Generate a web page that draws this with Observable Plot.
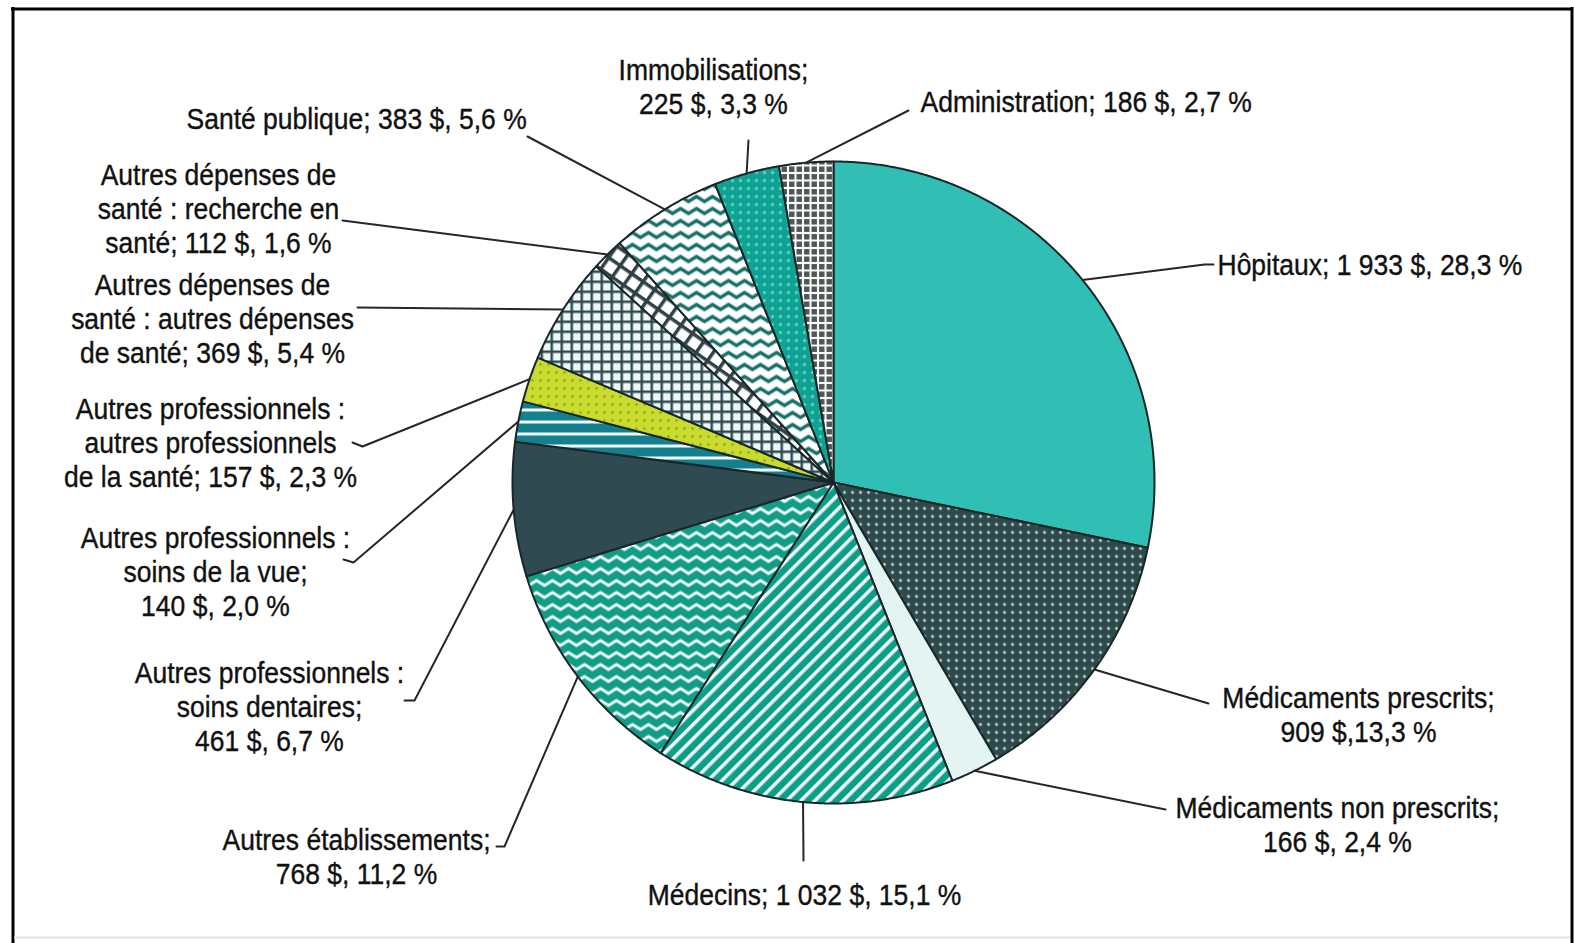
<!DOCTYPE html>
<html>
<head>
<meta charset="utf-8">
<script src="https://cdn.jsdelivr.net/npm/d3@7"></script>
<script src="https://cdn.jsdelivr.net/npm/@observablehq/plot@0.6"></script>
<style>
html, body { margin: 0; padding: 0; background: #fff; }
#chart svg { display: block; }
</style>
</head>
<body>
<div id="chart"></div>
<script>
// ---------- DATA ----------
const categories = [
  "Hôpitaux",
  "Médicaments prescrits",
  "Médicaments non prescrits",
  "Médecins",
  "Autres établissements",
  "Autres professionnels : soins dentaires",
  "Autres professionnels : soins de la vue",
  "Autres professionnels : autres professionnels de la santé",
  "Autres dépenses de santé : autres dépenses de santé",
  "Autres dépenses de santé : recherche en santé",
  "Santé publique",
  "Immobilisations",
  "Administration"
];
const dollars = [1933, 909, 166, 1032, 768, 461, 140, 157, 369, 112, 383, 225, 186];
const percents = [28.3, 13.3, 2.4, 15.1, 11.2, 6.7, 2.0, 2.3, 5.4, 1.6, 5.6, 3.3, 2.7];
const labels = [
  "Hôpitaux; 1 933 $, 28,3 %",
  "Médicaments prescrits;\n909 $,13,3 %",
  "Médicaments non prescrits;\n166 $, 2,4 %",
  "Médecins; 1 032 $, 15,1 %",
  "Autres établissements;\n768 $, 11,2 %",
  "Autres professionnels :\nsoins dentaires;\n461 $, 6,7 %",
  "Autres professionnels :\nsoins de la vue;\n140 $, 2,0 %",
  "Autres professionnels :\nautres professionnels\nde la santé; 157 $, 2,3 %",
  "Autres dépenses de\nsanté : autres dépenses\nde santé; 369 $, 5,4 %",
  "Autres dépenses de\nsanté : recherche en\nsanté; 112 $, 1,6 %",
  "Santé publique; 383 $, 5,6 %",
  "Immobilisations;\n225 $, 3,3 %",
  "Administration; 186 $, 2,7 %"
];

// ---------- STYLES ----------
const fills = [
  "#30beb5", "url(#pPresc)", "#e3f4f3", "url(#pMed)", "url(#pEtab)", "#2f4b51",
  "url(#pVue)", "url(#pAutPro)", "url(#pAutDep)", "url(#pRech)", "url(#pSante)",
  "url(#pImmo)", "url(#pAdmin)"
];

// ---------- LAYOUT ----------
const W = 1574, H = 943;
const cx = 833, cy = 482, R = 321;
// label anchor: [x, y, textAnchor]
const labelPos = [
  [1217, 264, "start"],
  [1358, 714, "middle"],
  [1337, 824, "middle"],
  [804, 894, "middle"],
  [356, 856, "middle"],
  [269, 706, "middle"],
  [215, 571, "middle"],
  [210, 442, "middle"],
  [212, 318, "middle"],
  [218, 208, "middle"],
  [186, 118, "start"],
  [713, 86, "middle"],
  [920, 101, "start"]
];
// leader line points after the slice edge
const leaderEnds = [
  [[1204, 264], [1213, 264]],
  [[1208, 703]],
  [[1165, 809]],
  [[803, 860]],
  [[504, 846], [496, 846]],
  [[414, 700], [404, 700]],
  [[353, 562], [343, 559]],
  [[362, 446], [352, 442]],
  [[357, 307]],
  [[342, 220]],
  [[527, 136]],
  [[748, 140]],
  [[908, 110]]
];

// ---------- BUILD ----------
const arcs = d3.pie().sort(null).value(d => d)(dollars);
const pt = (a, r) => ({x: cx + r * Math.sin(a), y: cy - r * Math.cos(a)});

const slices = arcs.map((a, i) => {
  const n = Math.max(4, Math.ceil((a.endAngle - a.startAngle) / 0.005));
  const pts = [{x: cx, y: cy}];
  for (let j = 0; j <= n; j++) pts.push(pt(a.startAngle + (a.endAngle - a.startAngle) * j / n, R));
  pts.push({x: cx, y: cy});
  return pts;
});

const leaders = [];
arcs.forEach((a, i) => {
  const m = (a.startAngle + a.endAngle) / 2;
  leaders.push({...pt(m, R), k: i});
  leaderEnds[i].forEach(([x, y]) => leaders.push({x, y, k: i}));
});

const labelData = labels.map((t, i) => ({text: t, x: labelPos[i][0], y: labelPos[i][1], anchor: labelPos[i][2]}));

const fontSize = 26.5, stretch = 1.12;
const textOpts = anchor => ({
  x: "x", y: "y", text: "text", textAnchor: anchor, lineAnchor: "middle",
  fontSize, lineHeight: 34 / (fontSize * stretch), fill: "#111", stroke: "#111", strokeWidth: 0.35
});

const chart = Plot.plot({
  width: W, height: H, margin: 0,
  x: {domain: [0, W], range: [0, W], axis: null},
  y: {domain: [0, H], range: [0, H], axis: null},
  style: {background: "#fff", fontFamily: "'Liberation Sans', Arial, sans-serif"},
  marks: [
    ...slices.map((pts, i) => Plot.line(pts, {
      x: "x", y: "y", fill: fills[i], stroke: "#1a2729", strokeWidth: 2, strokeLinejoin: "round"
    })),
    Plot.line(leaders, {x: "x", y: "y", z: "k", stroke: "#262626", strokeWidth: 2}),
    Plot.text(labelData.filter(d => d.anchor === "start"), textOpts("start")),
    Plot.text(labelData.filter(d => d.anchor === "middle"), textOpts("middle")),
    Plot.ruleX([12.5, 1571.5], {y1: 7, y2: H, stroke: "#000", strokeWidth: 3}),
    Plot.ruleY([8.5], {x1: 11, x2: 1573, stroke: "#000", strokeWidth: 3}),
    Plot.ruleY([937], {x1: 14, x2: 1570, stroke: "#e2e2e2", strokeWidth: 2})
  ]
});

// pattern definitions
const defs = `
<defs>
  <pattern id="pPresc" patternUnits="userSpaceOnUse" width="8" height="8">
    <rect width="8" height="8" fill="#2e4a4d"/><circle cx="4" cy="4" r="1.4" fill="#d6e6e3"/>
  </pattern>
  <pattern id="pMed" patternUnits="userSpaceOnUse" width="10" height="10" patternTransform="rotate(45)">
    <rect width="10" height="10" fill="#0c9f88"/><rect width="3.5" height="10" fill="#f2fbfd"/>
  </pattern>
  <pattern id="pEtab" patternUnits="userSpaceOnUse" width="16" height="12">
    <rect width="16" height="12" fill="#0f9d85"/>
    <path d="M-8,4 L0,9 L8,4 L16,9 L24,4" fill="none" stroke="#f2fbfd" stroke-width="2.8"/>
  </pattern>
  <pattern id="pVue" patternUnits="userSpaceOnUse" width="12" height="12">
    <rect width="12" height="12" fill="#14808e"/><rect width="12" height="3" fill="#f2fbfd"/>
  </pattern>
  <pattern id="pAutPro" patternUnits="userSpaceOnUse" width="8" height="8">
    <rect width="8" height="8" fill="#c9dc2e"/><circle cx="4" cy="4" r="1.3" fill="#8e9c22"/>
  </pattern>
  <pattern id="pAutDep" patternUnits="userSpaceOnUse" width="10" height="10">
    <rect width="10" height="10" fill="#eef6f6"/>
    <rect width="10" height="2.5" fill="#2f4a50"/><rect width="2.5" height="10" fill="#2f4a50"/>
  </pattern>
  <pattern id="pRech" patternUnits="userSpaceOnUse" width="14" height="14" patternTransform="rotate(35)">
    <rect width="14" height="14" fill="#ffffff"/>
    <rect width="14" height="3.5" fill="#2f4046"/><rect width="3.5" height="14" fill="#2f4046"/>
  </pattern>
  <pattern id="pSante" patternUnits="userSpaceOnUse" width="16" height="12">
    <rect width="16" height="12" fill="#ffffff"/>
    <path d="M-8,4 L0,9 L8,4 L16,9 L24,4" fill="none" stroke="#166e69" stroke-width="3.4"/>
  </pattern>
  <pattern id="pImmo" patternUnits="userSpaceOnUse" width="8" height="8">
    <rect width="8" height="8" fill="#0fa192"/><circle cx="4" cy="4" r="1.5" fill="#6fe0e0"/>
  </pattern>
  <pattern id="pAdmin" patternUnits="userSpaceOnUse" width="7.5" height="7.5">
    <rect width="7.5" height="7.5" fill="#ffffff"/><rect x="1" y="1" width="5.5" height="5.5" fill="#4e5656"/>
  </pattern>
</defs>`;
chart.insertAdjacentHTML("afterbegin", defs);

// slight vertical stretch of the label glyphs, as in the reference
chart.querySelectorAll('g[aria-label="text"] text').forEach(t => {
  let tr = t.getAttribute("transform");
  if (!tr) {
    const x = +t.getAttribute("x") || 0, y = +t.getAttribute("y") || 0;
    t.removeAttribute("x"); t.removeAttribute("y");
    tr = `translate(${x},${y})`;
  }
  t.setAttribute("transform", tr + ` scale(1,${stretch})`);
});

document.getElementById("chart").appendChild(chart);
</script>
</body>
</html>
